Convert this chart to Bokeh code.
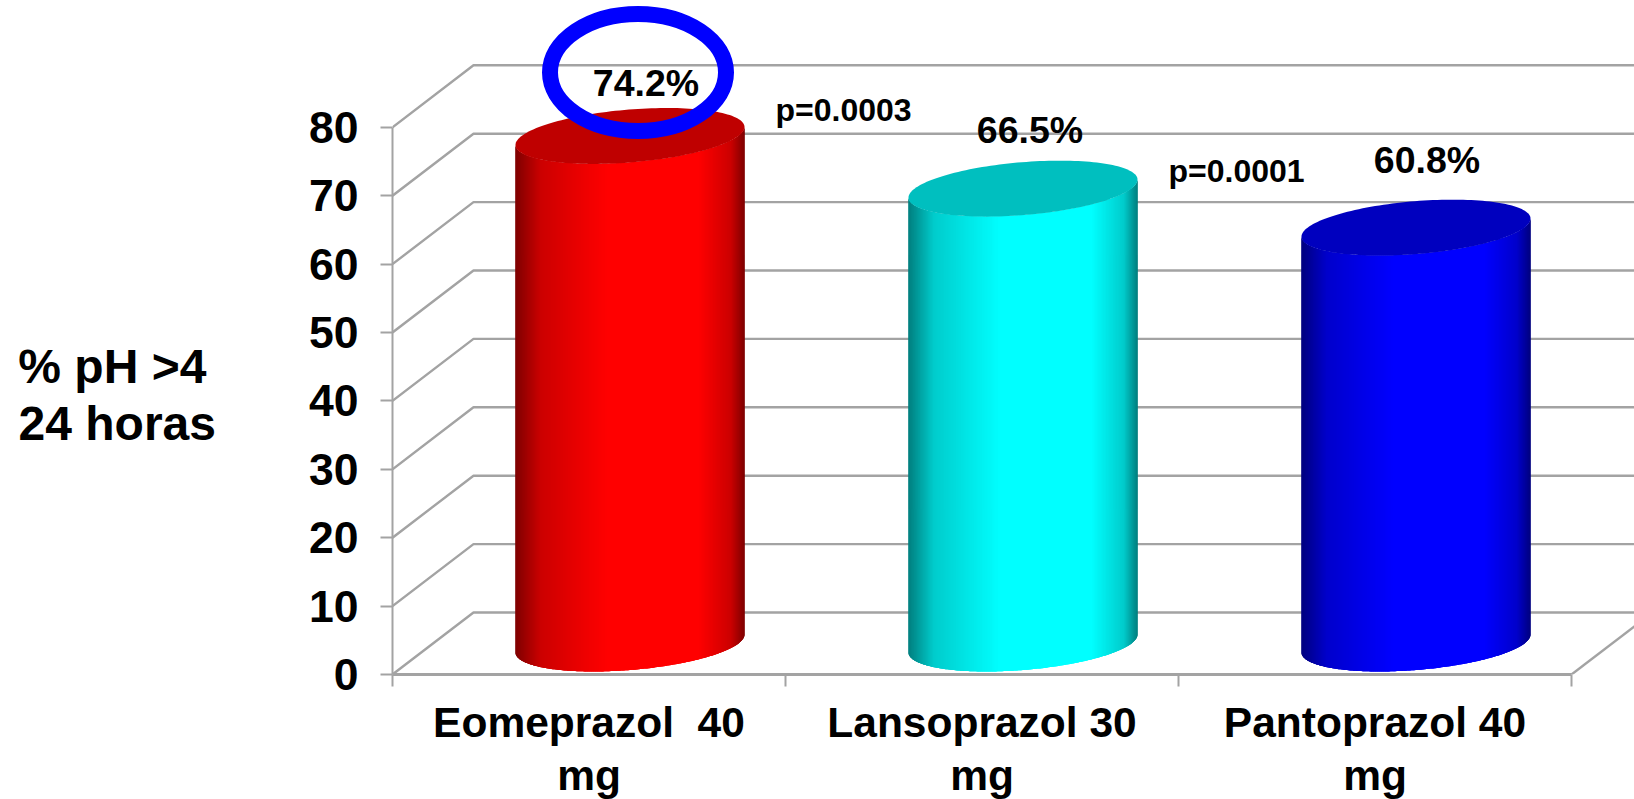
import numpy as np
from bokeh.core.properties import value
from bokeh.embed import file_html
from bokeh.models import FixedTicker, Range1d
from bokeh.plotting import figure
from bokeh.resources import INLINE

# ---- data ----
categories = ["Eomeprazol \u00a040\nmg", "Lansoprazol 30\nmg", "Pantoprazol 40\nmg"]
values = [74.2, 66.5, 60.8]
value_labels = ["74.2%", "66.5%", "60.8%"]
y_ticks = [0, 10, 20, 30, 40, 50, 60, 70, 80]
p_labels = ["p=0.0003", "p=0.0001"]
# two empty lines move the centred block down to where the title sits
y_title = "\n\n% pH >4\u2009\n24 horas"

# ---- pixel geometry of the plot ----
W, H = 1634, 799
CANVAS_H = 814                 # the two-line axis labels need a taller bottom panel
LEFT, BASE = 392, 674          # front-plane origin, in page pixels
PX_X, PX_Y = 393.0, 6.84       # pixels per category, pixels per value unit
DEPTH_X, DEPTH_Y = 81 / PX_X, 62 / PX_Y   # 3-D depth, data units
HALF_W = 114.5 / PX_X
SKEW = 9 / PX_Y
HALF_H = 26.5 / PX_Y
STRIPS = 170
GRID = "#a3a3a3"

FACE = {"red": (255, 0, 0), "cyan": (0, 255, 255), "blue": (0, 0, 255)}
colours = ["red", "cyan", "blue"]


def dx(px):
    return (px - LEFT) / PX_X


def dy(px):
    return (BASE - px) / PX_Y


p = figure(
    width=W, height=CANVAS_H, output_backend="svg", toolbar_location=None,
    x_range=Range1d(0, (W - LEFT) / PX_X), y_range=Range1d(0, BASE / PX_Y),
    min_border_left=LEFT, min_border_right=0, min_border_top=0,
    min_border_bottom=CANVAS_H - BASE, outline_line_color=None,
    background_fill_color="white", margin=(0, 0, H - CANVAS_H, 0),
)
p.grid.visible = False

# axes
FONT = "Liberation Sans"
ya = p.yaxis[0]
ya.ticker = FixedTicker(ticks=y_ticks)
ya.bounds = (0, 80)
ya.axis_line_color = GRID
ya.axis_line_width = 2
ya.major_tick_line_color = GRID
ya.major_tick_line_width = 2
ya.major_tick_in = 0
ya.major_tick_out = 12
ya.minor_tick_line_color = None
ya.major_label_standoff = 22
ya.major_label_text_font = FONT
ya.major_label_text_font_style = "bold"
ya.major_label_text_font_size = "44.5px"
ya.major_label_text_color = "black"
ya.axis_label = y_title
ya.axis_label_orientation = "horizontal"
ya.axis_label_standoff = 90
ya.axis_label_text_font = FONT
ya.axis_label_text_font_style = "bold"
ya.axis_label_text_font_size = "48px"
ya.axis_label_text_color = "black"
ya.axis_label_text_align = "right"
ya.axis_label_text_baseline = "top"
ya.axis_label_text_line_height = 1.085

xa = p.xaxis[0]
xa.ticker = FixedTicker(ticks=[0.5, 1.5, 2.5], minor_ticks=[0, 1, 2, 3])
xa.bounds = (0, 3)
xa.major_label_overrides = {i + 0.5: c for i, c in enumerate(categories)}
xa.axis_line_color = GRID
xa.axis_line_width = 3
xa.major_tick_line_color = None
xa.major_tick_in = 0
xa.major_tick_out = 0
xa.minor_tick_line_color = GRID
xa.minor_tick_line_width = 2
xa.minor_tick_in = 0
xa.minor_tick_out = 12
xa.major_label_standoff = 12
xa.major_label_text_font = FONT
xa.major_label_text_font_style = "bold"
xa.major_label_text_font_size = "42.5px"
xa.major_label_text_line_height = 1.13
xa.major_label_text_color = "black"

# walls
x_end = 3 + DEPTH_X
xs_wall, ys_wall = [], []
for t in y_ticks:
    xs_wall.append([0, DEPTH_X, x_end])
    ys_wall.append([t, t + DEPTH_Y, t + DEPTH_Y])
xs_wall.append([3, x_end])
ys_wall.append([0, DEPTH_Y])
p.multi_line(xs_wall, ys_wall, line_color=GRID, line_width=2.4)

# cylinders
for i, (v, name) in enumerate(zip(values, colours)):
    cx = i + 0.5 + 82 / PX_X / 2
    base = DEPTH_Y / 2
    top = v + DEPTH_Y / 2
    face = np.array(FACE[name])

    def lower(c, level):
        return level + SKEW * c - HALF_H * np.sqrt(np.clip(1 - c * c, 0, 1))

    edges = -np.cos(np.linspace(0, np.pi, STRIPS + 1))
    xs, ys, cols = [], [], []
    for k in range(STRIPS):
        # each strip runs on under the next ones, which leaves no seams
        cc = edges[k:k + 4]
        u = ((edges[k] + edges[k + 1]) / 2 + 1) / 2
        shade = np.interp(u, [0, 0.11, 0.25, 0.4, 0.8, 0.94, 1], [0.5, 0.8, 0.9, 1, 1, 0.8, 0.5])
        cols.append("#%02x%02x%02x" % tuple((face * shade).astype(int)))
        xs.append(list(cx + cc * HALF_W) + list(cx + cc[::-1] * HALF_W))
        ys.append(list(lower(cc, base)) + list(lower(cc[::-1], top)))
    p.patches(xs, ys, fill_color=cols, line_color=None)

    t = np.linspace(0, 2 * np.pi, 160)
    top_x = cx + HALF_W * np.cos(t)
    top_y = top + SKEW * np.cos(t) + HALF_H * np.sin(t)
    p.patch(top_x, top_y, fill_color=tuple((face * 0.75).astype(int)), line_color=None)

# ring round the first value
p.ellipse(x=[dx(637.5)], y=[dy(72)], width=[176], height=[117],
          width_units="screen", height_units="screen",
          fill_color=None, line_color="#0000ff", line_width=16)

# value labels
label_dx = [16, 7, 11]
label_gap = [52.5, 59, 67.5]
for i, (v, s) in enumerate(zip(values, value_labels)):
    p.text(x=[i + 0.5 + 82 / PX_X / 2 + label_dx[i] / PX_X],
           y=[v + DEPTH_Y / 2 + label_gap[i] / PX_Y], text=[s],
           text_font=value(FONT), text_font_style="bold", text_font_size="37.5px",
           text_color="black", text_align="center", text_baseline="alphabetic")

# p values
for s, px, py in zip(p_labels, [775, 1168], [109.5, 170.5]):
    p.text(x=[dx(px)], y=[dy(py)], text=[s], text_font=value(FONT),
           text_font_style="bold", text_font_size="32px", text_color="black",
           text_align="left", text_baseline="alphabetic")

open("out.html", "w").write(file_html(p, INLINE))
